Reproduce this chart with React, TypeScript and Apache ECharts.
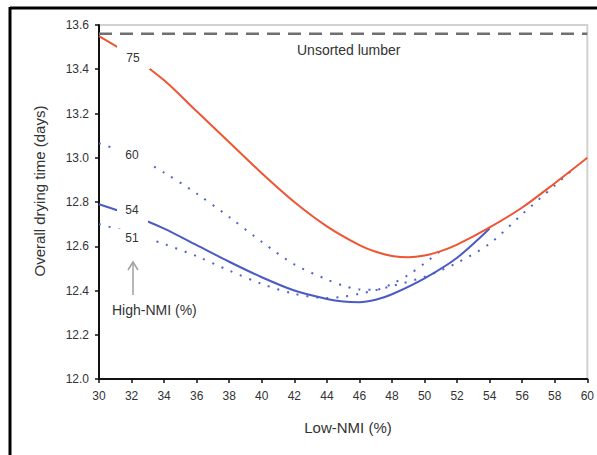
import React, { useEffect, useRef } from 'react';
import * as echarts from 'echarts';

// Low-NMI (%) values and overall drying time (days) for each High-NMI threshold
const red75X = [30, 32, 34, 36, 38, 40, 42, 44, 46, 47, 48, 49, 50, 51, 52, 54, 56, 58, 60];
const red75Y = [13.55, 13.46, 13.35, 13.21, 13.07, 12.93, 12.8, 12.69, 12.605, 12.575, 12.556, 12.55, 12.558, 12.578, 12.607, 12.685, 12.775, 12.885, 13.0];

const blue54X = [30, 32, 34, 36, 38, 40, 42, 44, 45, 46, 47, 48, 50, 52, 54];
const blue54Y = [12.79, 12.74, 12.68, 12.605, 12.53, 12.46, 12.4, 12.362, 12.35, 12.347, 12.358, 12.383, 12.455, 12.548, 12.68];

const dot60X = [30, 32, 34, 36, 38, 40, 42, 44, 45, 46, 47, 48, 49, 50, 51];
const dot60Y = [13.065, 13.013, 12.933, 12.838, 12.732, 12.62, 12.518, 12.45, 12.422, 12.405, 12.403, 12.43, 12.47, 12.523, 12.58];

const dot51X = [30, 32, 34, 36, 38, 40, 42, 44, 45, 46, 48, 50, 52, 54, 56, 58, 59];
const dot51Y = [12.7, 12.66, 12.61, 12.555, 12.49, 12.43, 12.385, 12.366, 12.372, 12.385, 12.42, 12.462, 12.525, 12.612, 12.745, 12.875, 12.94];

const unsortedX = [30, 60];
const unsortedLevel = 13.56;

const curveLabels = ['75', '60', '54', '51'];
const xTitle = 'Low-NMI (%)';
const yTitle = 'Overall drying time (days)';
const unsortedText = 'Unsorted lumber';
const arrowText = 'High-NMI (%)';

const FONT = "'Liberation Sans', Arial, sans-serif";
const RED = '#EE5533';
const BLUE = '#4A5BC4';
const BLUE_DOT = '#5063CC';

const pairs = (xs: number[], ys: number[]) => xs.map((x, i) => [x, ys[i]]);

const labelBox = (x: number, y: number, w: number, h: number) => ({
  type: 'rect',
  z: 100,
  shape: { x, y, width: w, height: h },
  style: { fill: '#ffffff' },
});

const text = (t: string, x: number, y: number, size: number, align = 'center', extra: any = {}) => ({
  type: 'text',
  z: 101,
  x,
  y,
  ...extra,
  style: {
    text: t,
    fontSize: size,
    fontFamily: FONT,
    fill: '#333333',
    align,
    verticalAlign: 'middle',
  },
});

export default function App() {
  const ref = useRef<HTMLDivElement>(null);

  useEffect(() => {
    const chart = echarts.init(ref.current!, null, { renderer: 'svg' });
    const option: any = {
      animation: false,
      backgroundColor: '#ffffff',
      grid: {
        left: 99,
        right: 9,
        top: 25,
        bottom: 76,
        show: true,
        borderColor: '#d2d2d2',
        borderWidth: 2,
        backgroundColor: 'transparent',
      },
      xAxis: {
        type: 'value',
        min: 30,
        max: 60,
        interval: 2,
        axisLine: { show: true, lineStyle: { color: '#111', width: 2 } },
        axisTick: { show: true, length: 4, lineStyle: { color: '#111', width: 1.5 } },
        axisLabel: { fontSize: 12, fontFamily: FONT, color: '#333', margin: 11 },
        splitLine: { show: false },
      },
      yAxis: {
        type: 'value',
        min: 12,
        max: 13.6,
        interval: 0.2,
        axisLine: { show: true, lineStyle: { color: '#111', width: 2 } },
        axisTick: { show: true, length: 4, lineStyle: { color: '#111', width: 1.5 } },
        axisLabel: {
          fontSize: 12,
          fontFamily: FONT,
          color: '#333',
          margin: 10,
          formatter: (v: number) => v.toFixed(1),
        },
        splitLine: { show: false },
      },
      series: [
        {
          type: 'line',
          data: pairs(unsortedX, unsortedX.map(() => unsortedLevel)),
          symbol: 'none',
          lineStyle: { color: '#707070', width: 2.5, type: [13, 8] },
          z: 1,
        },
        {
          type: 'line',
          data: pairs(dot51X, dot51Y),
          symbol: 'none',
          smooth: 0.3,
          lineStyle: { color: BLUE_DOT, width: 2, type: [2, 8] },
        },
        {
          type: 'line',
          data: pairs(dot60X, dot60Y),
          symbol: 'none',
          smooth: 0.3,
          lineStyle: { color: BLUE_DOT, width: 2, type: [2, 8] },
        },
        {
          type: 'line',
          data: pairs(blue54X, blue54Y),
          symbol: 'none',
          smooth: 0.3,
          lineStyle: { color: BLUE, width: 2 },
        },
        {
          type: 'line',
          data: pairs(red75X, red75Y),
          symbol: 'none',
          smooth: 0.3,
          lineStyle: { color: RED, width: 2 },
        },
      ],
      graphic: [
        // outer frame
        { type: 'line', z: 100, shape: { x1: 10, y1: 8, x2: 597, y2: 8 }, style: { stroke: '#000', lineWidth: 3 } },
        { type: 'line', z: 100, shape: { x1: 10, y1: 7, x2: 10, y2: 455 }, style: { stroke: '#000', lineWidth: 3 } },
        // label gaps in curves
        labelBox(117, 45, 33, 24),
        labelBox(113, 145, 37, 22),
        labelBox(117, 202, 31, 21),
        labelBox(113, 229, 43, 17),
        text(curveLabels[0], 133, 58, 12),
        text(curveLabels[1], 132, 155, 12),
        text(curveLabels[2], 132, 210, 12),
        text(curveLabels[3], 132, 238, 12),
        // arrow
        { type: 'line', z: 100, shape: { x1: 133, y1: 295, x2: 133, y2: 263 }, style: { stroke: '#a0a0a0', lineWidth: 1.5 } },
        {
          type: 'polyline',
          z: 100,
          shape: { points: [[128, 270], [133, 262], [138, 270]] },
          style: { stroke: '#a0a0a0', lineWidth: 1.5, fill: 'none' },
        },
        text(arrowText, 112, 310, 14, 'left'),
        text(unsortedText, 297, 50, 14, 'left'),
        text(xTitle, 348, 427, 15),
        text(yTitle, 39, 191, 15, 'center', { rotation: Math.PI / 2 }),
      ],
    };
    chart.setOption(option);
    return () => chart.dispose();
  }, []);

  return (
    <div
      ref={ref}
      style={{ position: 'fixed', left: 0, top: 0, width: 597, height: 455, background: '#fff' }}
    />
  );
}
